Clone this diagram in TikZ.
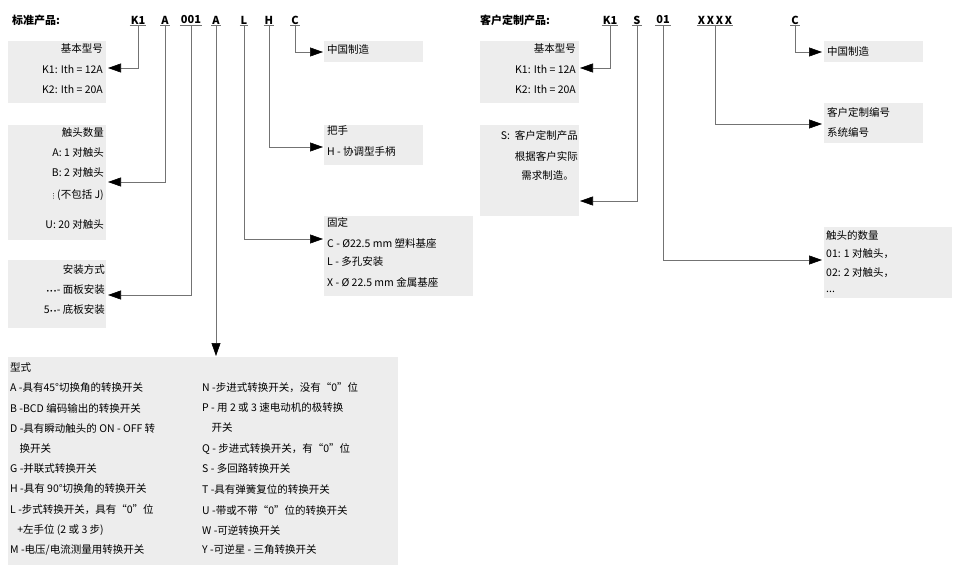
\documentclass[tikz,border=0pt]{standalone}
\usepackage{fontspec}
\setmainfont{Noto Sans CJK SC}
\newfontfamily\djv{DejaVu Sans}
\usetikzlibrary{arrows.meta}
\begin{document}
\begin{tikzpicture}[x=1pt,y=-1pt,
  bx/.style={fill=black!7,draw=none},
  tl/.style={anchor=east,inner sep=0pt,font=\fontsize{10.5}{12}\selectfont},
  tr/.style={anchor=west,inner sep=0pt,font=\fontsize{10.5}{12}\selectfont},
  code/.style={inner sep=1pt,font=\bfseries\fontsize{11}{12}\selectfont},
  ln/.style={draw=black!55,line width=0.6pt},
  con/.style={ln,-{Triangle[length=13pt,width=9pt,color=black]}}]
\useasboundingbox (0,0) rectangle (957,578);
% boxes
\fill[bx] (8,41) rectangle (106,103);
\fill[bx] (8,125) rectangle (106,240);
\fill[bx] (8,260) rectangle (106,328);
\fill[bx] (8,357) rectangle (398,565);
\fill[bx] (324,41) rectangle (423,62);
\fill[bx] (324,125) rectangle (423,165);
\fill[bx] (324,216) rectangle (473,296);
\fill[bx] (480,41) rectangle (579,103);
\fill[bx] (480,125) rectangle (579,216);
\fill[bx] (824,41) rectangle (923,62);
\fill[bx] (824,103) rectangle (923,143);
\fill[bx] (824,227) rectangle (952,298);
% headers
\node[anchor=west,inner sep=0pt,font=\bfseries\fontsize{11}{12}\selectfont] (h1) at (12,20) {标准产品:};
\node[anchor=west,inner sep=0pt,font=\bfseries\fontsize{11}{12}\selectfont] (h2) at (480,20) {客户定制产品:};
\foreach \n/\x/\t in {ck1/138/K1,ca/165/A,c001/191/001,ca2/216/A,cl/244/L,ch/269/H,cc/295/C,
  dk1/610/K1,ds/637/S,d01/663/01,dx/715/X\,X\,X\,X,dc/795/C}{
  \node[code] (\n) at (\x,20) {\t};
  \draw[ln] (\n.south west) -- (\n.south east);
}
% left texts
\node[tl] (t1) at (103,49) {基本型号};
\node[tl] (t2) at (103,69) {K1: Ith = 12A};
\node[tl] (t3) at (103,89) {K2: Ith = 20A};
\node[tl] (t4) at (104,133) {触头数量};
\node[tl] (t5) at (104,153) {A: 1 对触头};
\node[tl] (t6) at (104,173) {B: 2 对触头};
\node[tl] (t7) at (104,195) {{\djv\fontsize{7}{8}\selectfont ⋮}(不包括 J)};
\node[tl] (t8) at (104,225) {U: 20 对触头};
\node[tl] (t9) at (105,270) {安装方式};
\node[tl] (t10) at (105,290) {{\djv\fontsize{6}{8}\selectfont •••}- 面板安装};
\node[tl] (t11) at (105,310) {5{\djv\fontsize{6}{8}\selectfont ••}- 底板安装};
\node[tr] (r1) at (327,50) {中国制造};
\node[tr] (r2) at (327,131) {把手};
\node[tr] (r3) at (327,152) {H - 协调型手柄};
\node[tr] (r4) at (327,222) {固定};
\node[tr] (r5) at (327,243) {C - Ø22.5 mm 塑料基座};
\node[tr] (r6) at (327,262) {L - 多孔安装};
\node[tr] (r7) at (327,282) {X - Ø 22.5 mm 金属基座};
% right side texts
\node[tl] (u1) at (576,49) {基本型号};
\node[tl] (u2) at (576,69) {K1: Ith = 12A};
\node[tl] (u3) at (576,89) {K2: Ith = 20A};
\node[tl] (u4) at (578,135) {S:\ \ 客户定制产品};
\node[tl] (u5) at (578,156) {根据客户实际};
\node[tl] (u6) at (574,176) {需求制造。};
\node[tr] (v1) at (827,52) {中国制造};
\node[tr] (v2) at (827,112) {客户定制编号};
\node[tr] (v3) at (827,132) {系统编号};
\node[tr] (v4) at (826,236) {触头的数量};
\node[tr] (v5) at (826,254) {01: 1 对触头，};
\node[tr] (v6) at (826,273) {02: 2 对触头，};
\node[tr] (v7) at (826,292) {...};
% bottom box
\foreach \y/\a/\b in {368/{型式}/{},388/{A -具有45°切换角的转换开关}/{N -步进式转换开关，没有“0”位},
 408/{B -BCD 编码输出的转换开关}/{P - 用 2 或 3 速电动机的极转换},
 428/{D -具有瞬动触头的 ON - OFF 转}/{\ \ \ \ 开关},
 449/{\ \ \ \ 换开关}/{Q - 步进式转换开关，有“0”位},
 469/{G -并联式转换开关}/{S - 多回路转换开关},
 489/{H -具有 90°切换角的转换开关}/{T -具有弹簧复位的转换开关},
 510/{L -步式转换开关，具有“0”位}/{U -带或不带“0”位的转换开关},
 530/{\ \ \ +左手位 (2 或 3 步)}/{W -可逆转换开关},
 550/{M -电压/电流测量用转换开关}/{Y -可逆星 - 三角转换开关}}{
  \node[tr] at (10,\y) {\a};
  \node[tr] at (202,\y) {\b};
}
% connectors
\coordinate (p1) at (108,68);
\coordinate (p2) at (108,182);
\coordinate (p3) at (108,295);
\coordinate (p4) at (216,356);
\coordinate (p5) at (323,52);
\coordinate (p6) at (323,147);
\coordinate (p7) at (323,239);
\coordinate (q1) at (580,68);
\coordinate (q2) at (580,201);
\coordinate (q3) at (822,52);
\coordinate (q4) at (822,124);
\coordinate (q5) at (822,260);
\draw[con] (ck1.south) |- (p1);
\draw[con] (ca.south) |- (p2);
\draw[con] (c001.south) |- (p3);
\draw[con] (ca2.south) -- (p4);
\draw[con] (cc.south) |- (p5);
\draw[con] (ch.south) |- (p6);
\draw[con] (cl.south) |- (p7);
\draw[con] (dk1.south) |- (q1);
\draw[con] (ds.south) |- (q2);
\draw[con] (dc.south) |- (q3);
\draw[con] (dx.south) |- (q4);
\draw[con] (d01.south) |- (q5);
\end{tikzpicture}
\end{document}
